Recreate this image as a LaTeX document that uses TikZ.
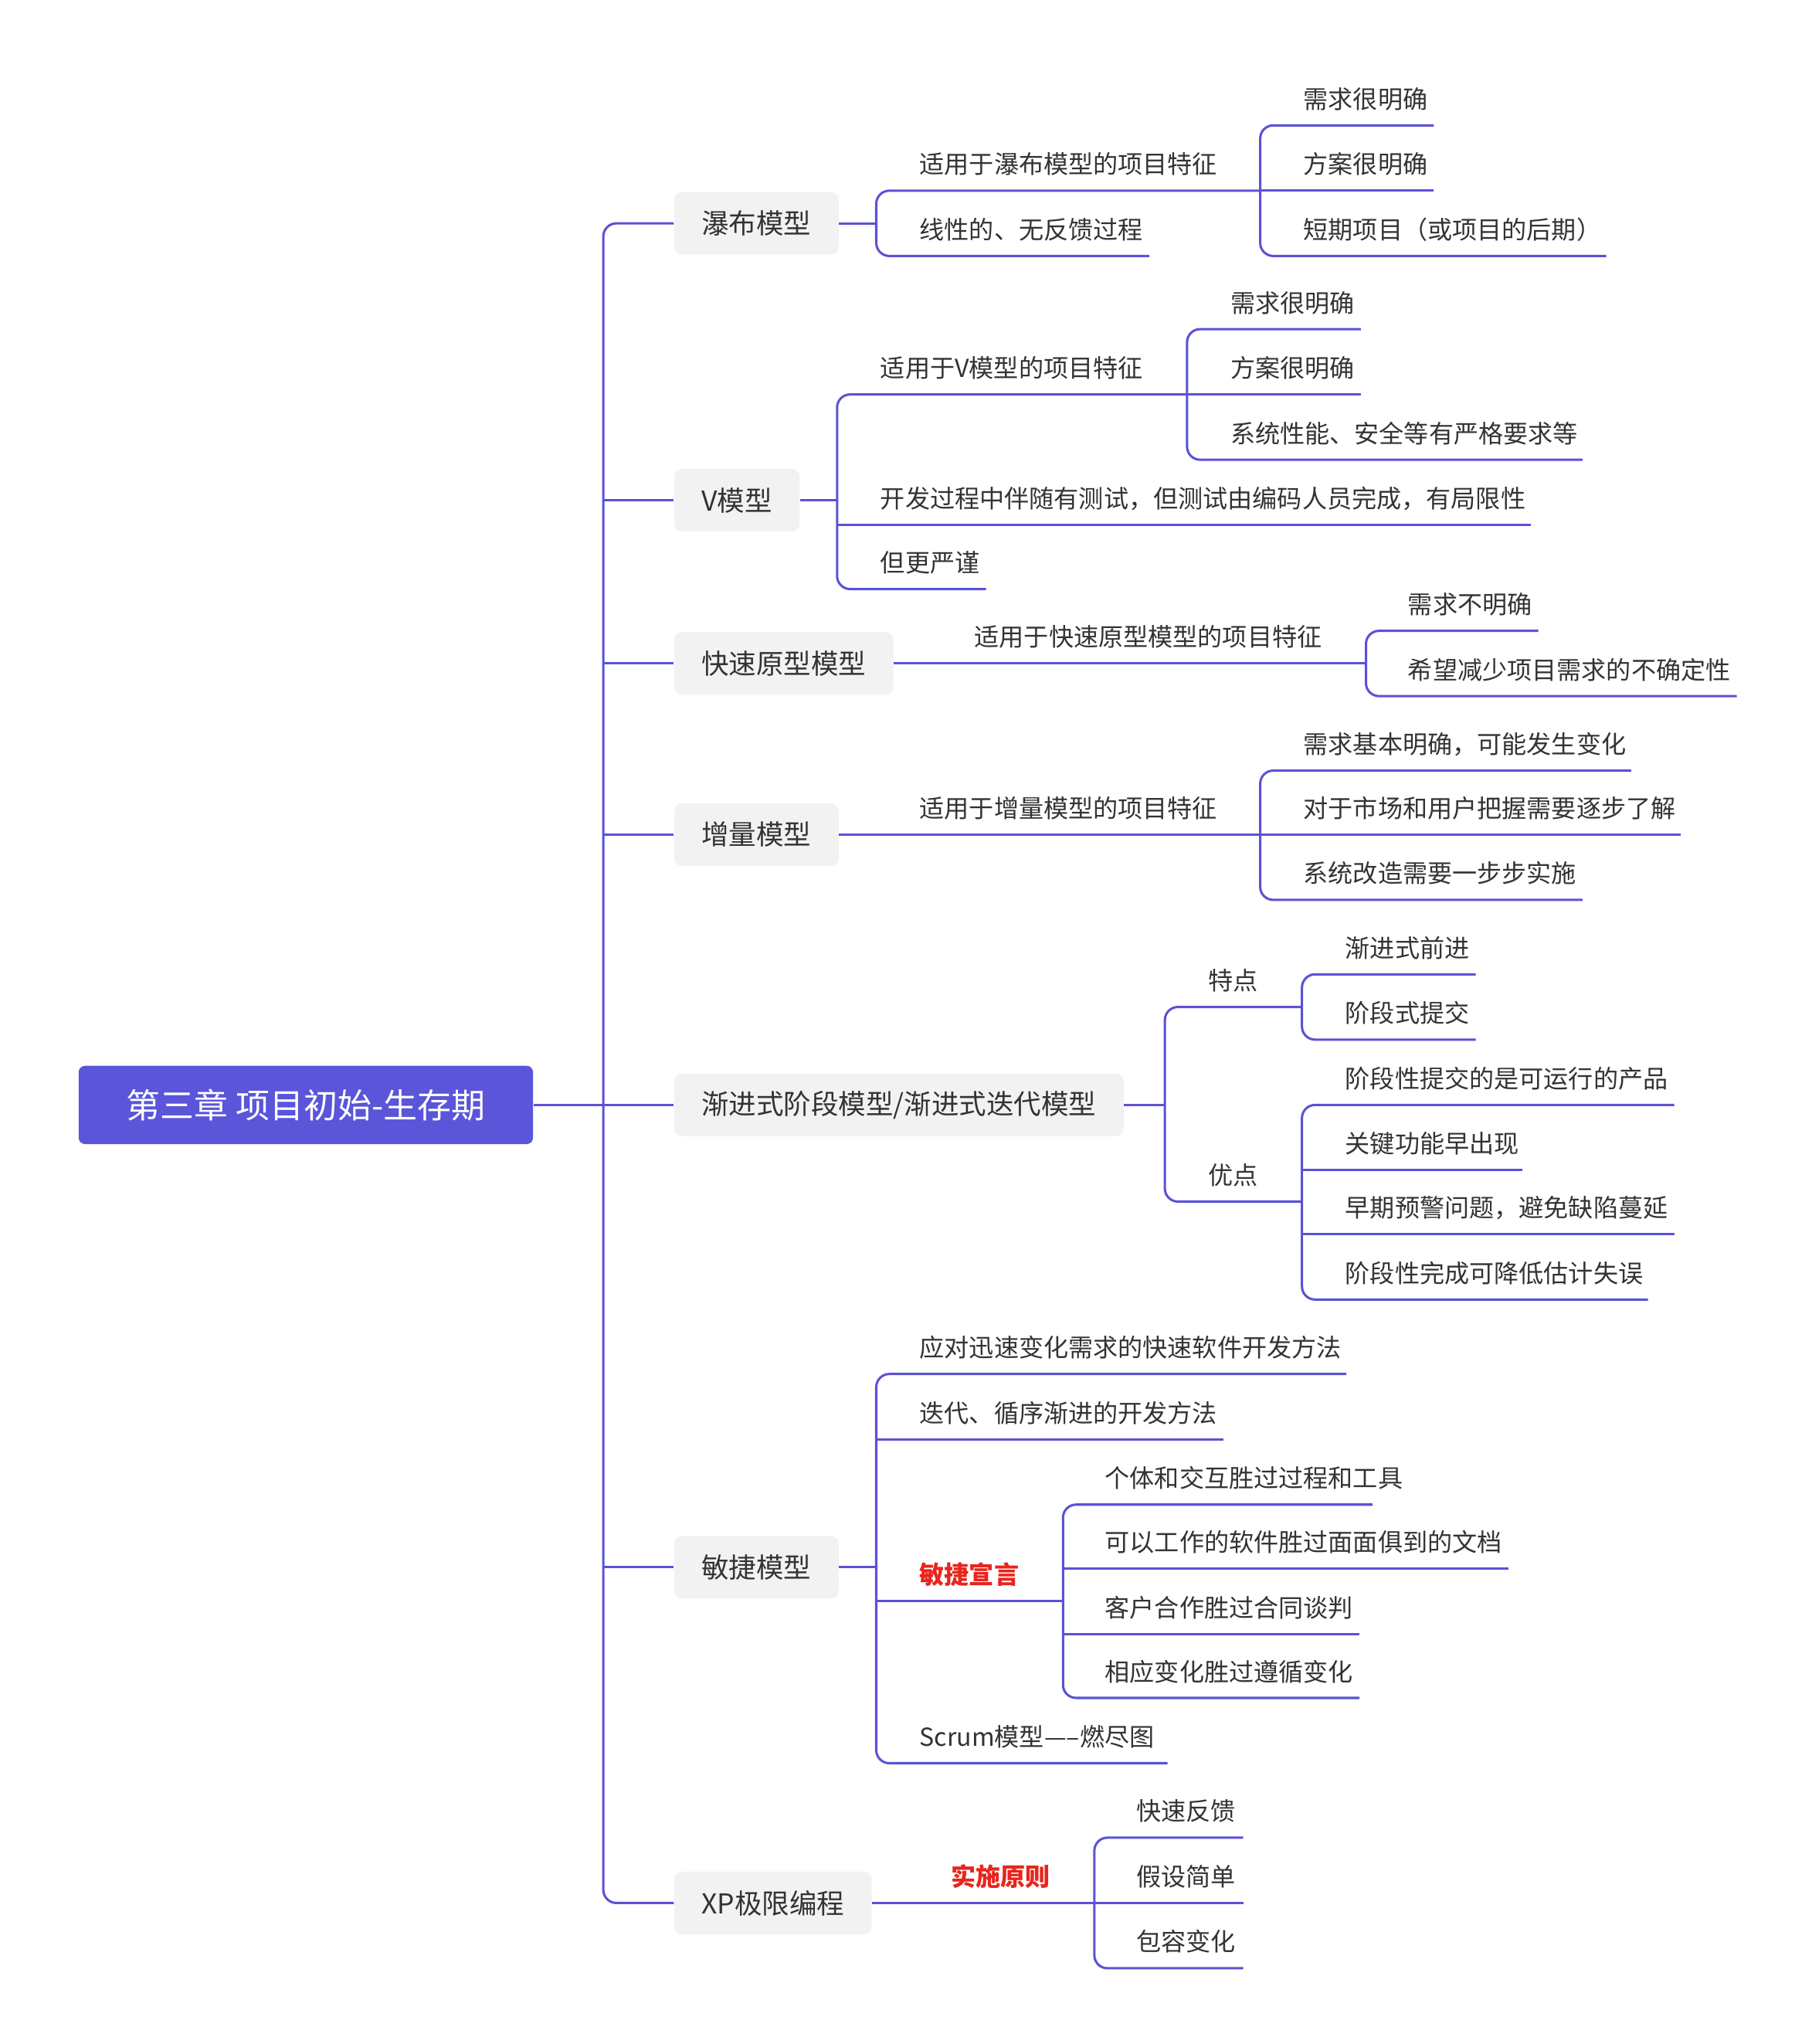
\documentclass[tikz,border=0pt]{standalone}
\usepackage{fontspec}
\setmainfont{Noto Sans CJK SC}
\begin{document}
\begin{tikzpicture}[x=1pt,y=-1pt,
  ln/.style={draw=lc,line width=1.8pt,rounded corners=10pt},
  lt/.style={anchor=base west,inner sep=0pt,text=tc,font=\fontsize{19}{22}\selectfont},
  red/.style={lt,text=rc,font=\fontsize{19}{22}\selectfont\bfseries},
  lv/.style={draw=none,fill=bx,rounded corners=6pt,anchor=west,minimum height=48pt,inner xsep=21pt,text=tc,font=\fontsize{21}{24}\selectfont}]
\definecolor{lc}{HTML}{5B52D6}
\definecolor{tc}{HTML}{333333}
\definecolor{rc}{HTML}{E8251E}
\definecolor{bx}{HTML}{F2F2F2}
\definecolor{rt}{HTML}{5A55D9}
\useasboundingbox (0,0) rectangle (1387,1565);
\newcommand\leaf[4]{\node[lt] (#1) at (#2,#3-13) {#4};}
% root
\node[fill=rt,rounded corners=5pt,minimum width=348pt,minimum height=60pt,text=white,font=\fontsize{26}{30}\selectfont,anchor=west] (root) at (60,846) {第三章 项目初始-生存期};
\draw[ln] (root.east) -- (462,846);
\draw[ln,rounded corners=10pt] (516,171) -- (462,171) -- (462,1457) -- (516,1457);
\foreach \y in {383,508,639,846,1200} \draw[ln] (462,\y) -- (516,\y);
% level 1
\node[lv] (a) at (516,171) {瀑布模型};
\node[lv] (b) at (516,383) {V模型};
\node[lv] (c) at (516,508) {快速原型模型};
\node[lv] (d) at (516,639) {增量模型};
\node[lv] (e) at (516,846) {渐进式阶段模型/渐进式迭代模型};
\node[lv] (f) at (516,1200) {敏捷模型};
\node[lv] (g) at (516,1457) {XP极限编程};
% waterfall
\draw[ln] (a.east) -- (671,171);
\draw[ln] (965,146) -- (671,146) -- (671,196) -- (880,196);
\leaf{a1}{704}{146}{适用于瀑布模型的项目特征}
\leaf{a2}{704}{196}{线性的、无反馈过程}
\draw[ln] (1098,96) -- (965,96) -- (965,196) -- (1230,196);
\draw[ln] (965,146) -- (1098,146);
\leaf{a11}{998}{96}{需求很明确}
\leaf{a12}{998}{146}{方案很明确}
\leaf{a13}{998}{196}{短期项目（或项目的后期）}
% V
\draw[ln] (b.east) -- (641,383);
\draw[ln] (909,302) -- (641,302) -- (641,451) -- (755,451);
\draw[ln] (641,402) -- (1172,402);
\leaf{b1}{674}{302}{适用于V模型的项目特征}
\leaf{b2}{674}{402}{开发过程中伴随有测试，但测试由编码人员完成，有局限性}
\leaf{b3}{674}{451}{但更严谨}
\draw[ln] (1042,252) -- (909,252) -- (909,352) -- (1212,352);
\draw[ln] (909,302) -- (1042,302);
\leaf{b11}{942}{252}{需求很明确}
\leaf{b12}{942}{302}{方案很明确}
\leaf{b13}{942}{352}{系统性能、安全等有严格要求等}
% rapid
\draw[ln] (c.east) -- (1046,508);
\leaf{c1}{746}{508}{适用于快速原型模型的项目特征}
\draw[ln] (1178,483) -- (1046,483) -- (1046,533) -- (1330,533);
\leaf{c11}{1078}{483}{需求不明确}
\leaf{c12}{1078}{533}{希望减少项目需求的不确定性}
% incremental
\draw[ln] (d.east) -- (965,639);
\leaf{d1}{704}{639}{适用于增量模型的项目特征}
\draw[ln] (1249,590) -- (965,590) -- (965,689) -- (1212,689);
\draw[ln] (965,639) -- (1287,639);
\leaf{d11}{998}{590}{需求基本明确，可能发生变化}
\leaf{d12}{998}{639}{对于市场和用户把握需要逐步了解}
\leaf{d13}{998}{689}{系统改造需要一步步实施}
% progressive
\draw[ln] (e.east) -- (892,846);
\draw[ln] (997,771) -- (892,771) -- (892,920) -- (997,920);
\leaf{e1}{925}{771}{特点}
\leaf{e2}{925}{920}{优点}
\draw[ln] (1130,746) -- (997,746) -- (997,796) -- (1130,796);
\leaf{e11}{1030}{746}{渐进式前进}
\leaf{e12}{1030}{796}{阶段式提交}
\draw[ln] (1282,846) -- (997,846) -- (997,995) -- (1262,995);
\draw[ln] (997,896) -- (1166,896);
\draw[ln] (997,945) -- (1282,945);
\leaf{e21}{1030}{846}{阶段性提交的是可运行的产品}
\leaf{e22}{1030}{896}{关键功能早出现}
\leaf{e23}{1030}{945}{早期预警问题，避免缺陷蔓延}
\leaf{e24}{1030}{995}{阶段性完成可降低估计失误}
% agile
\draw[ln] (f.east) -- (671,1200);
\draw[ln] (1031,1052) -- (671,1052) -- (671,1350) -- (894,1350);
\draw[ln] (671,1102) -- (937,1102);
\draw[ln] (671,1226) -- (814,1226);
\leaf{f1}{704}{1052}{应对迅速变化需求的快速软件开发方法}
\leaf{f2}{704}{1102}{迭代、循序渐进的开发方法}
\node[red] (f3) at (704,1213) {敏捷宣言};
\leaf{f4}{704}{1350}{Scrum模型-----燃尽图}
\draw[ln] (1051,1152) -- (814,1152) -- (814,1300) -- (1041,1300);
\draw[ln] (814,1201) -- (1155,1201);
\draw[ln] (814,1251) -- (1041,1251);
\leaf{f31}{846}{1152}{个体和交互胜过过程和工具}
\leaf{f32}{846}{1201}{可以工作的软件胜过面面俱到的文档}
\leaf{f33}{846}{1251}{客户合作胜过合同谈判}
\leaf{f34}{846}{1300}{相应变化胜过遵循变化}
% XP
\draw[ln] (g.east) -- (838,1457);
\node[red] (g1) at (728,1444) {实施原则};
\draw[ln] (952,1407) -- (838,1407) -- (838,1507) -- (952,1507);
\draw[ln] (838,1457) -- (952,1457);
\leaf{g11}{870}{1407}{快速反馈}
\leaf{g12}{870}{1457}{假设简单}
\leaf{g13}{870}{1507}{包容变化}
\end{tikzpicture}
\end{document}
